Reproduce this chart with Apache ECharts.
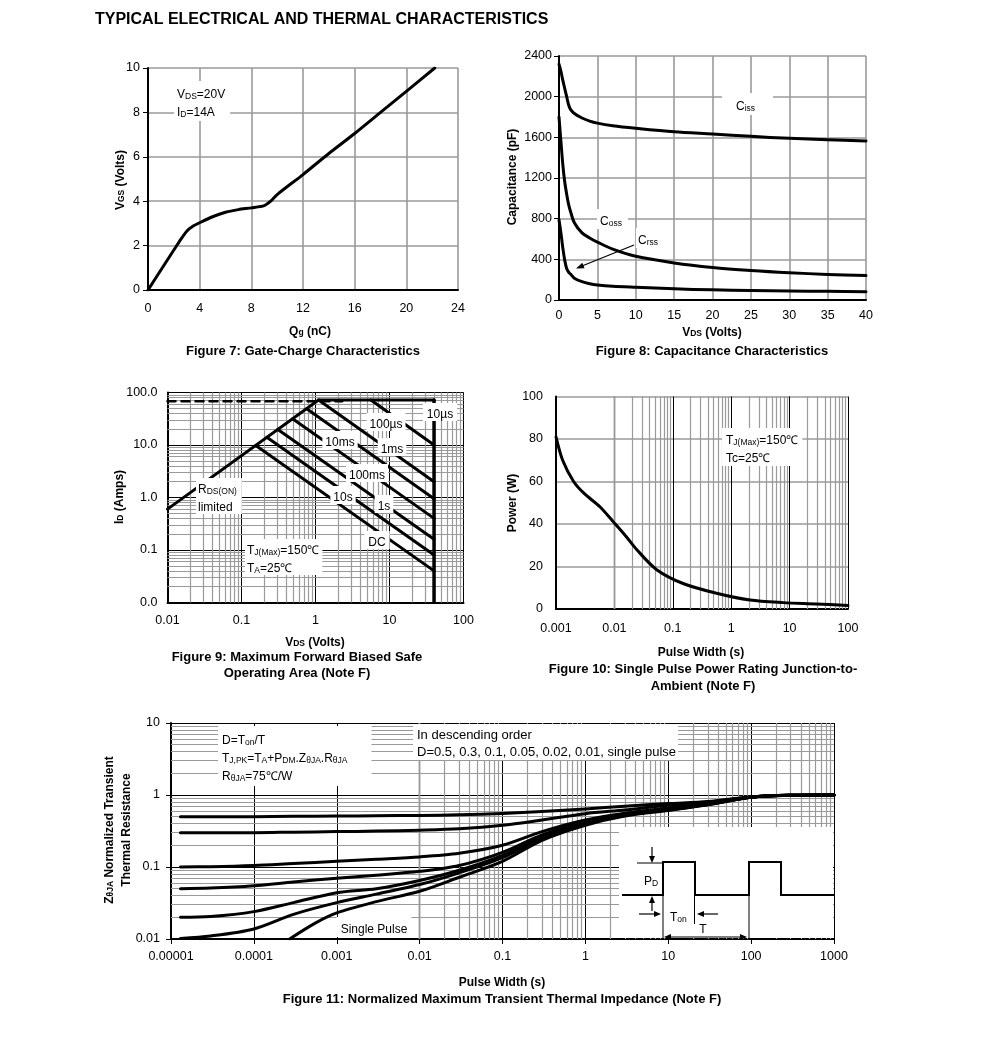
<!DOCTYPE html>
<html><head><meta charset="utf-8">
<script src="https://cdn.jsdelivr.net/npm/echarts@6/dist/echarts.min.js"></script>
<style>html,body{margin:0;padding:0;background:#fff}#c{width:991px;height:1038px}</style>
</head><body><div id="c"></div>
<script>
// ================= DATA =================
// Figure 7: Gate charge
const gateQg  = [0,0.5,1,1.5,2,2.5,3,3.5,4,5,6,7,8,9,9.5,10,12,14,16,18,20,22.2];
const gateVgs = [0,0.45,0.9,1.35,1.8,2.25,2.65,2.88,3.03,3.3,3.5,3.62,3.7,3.8,4.0,4.3,5.2,6.15,7.05,8.0,8.95,10];
// Figure 8: Capacitance
const capVds  = [0,0.25,0.5,0.75,1,1.25,1.5,2,3,4,5,7,10,15,20,25,30,35,40];
const capCiss = [2320,2250,2160,2080,2000,1920,1875,1835,1790,1760,1740,1715,1690,1655,1633,1610,1590,1577,1564];
const capCoss = [1800,1560,1330,1160,1040,940,870,760,660,610,570,500,430,365,320,290,268,252,240];
const capCrss = [790,660,510,390,310,275,255,215,180,160,148,135,125,110,100,94,89,85,82];
// Figure 9: Safe operating area (V, A)
const soaRdsLimit = [[0.01,0.6],[1.1,72]];
const soaCurrentLimit = [[1.1,72],[40,72]];
const soaVoltageLimit = [[40,72],[40,0.01]];
const soaDashed = [[0.01,68],[2.3,68]];
const soa10us  = [[5.6,72],[40,10]];
const soa100us = [[1.1,72],[40,2.0]];
const soa1ms   = [[0.76,49],[40,0.95]];
const soa10ms  = [[0.49,31.5],[40,0.4]];
const soa100ms = [[0.31,19.8],[40,0.16]];
const soa1s    = [[0.22,14],[40,0.08]];
const soa10s   = [[0.156,9.8],[40,0.04]];
// Figure 10: Single pulse power
const spWidth = [0.001,0.0013,0.002,0.003,0.0057,0.0096,0.016,0.024,0.053,0.15,0.56,2.1,7.8,28,100];
const spPower = [81,70,60,54.5,48,41,34,28,18.5,12,7.4,4.2,3.0,2.4,1.7];
// Figure 11: Transient thermal impedance
const zthT    = [1.3e-5,3e-5,1e-4,3e-4,1e-3,3e-3,1e-2,3e-2,0.1,0.3,1,3,10,30,100,300,1000];
const zthD05  = [0.5,0.5,0.5,0.505,0.51,0.515,0.52,0.53,0.555,0.59,0.64,0.70,0.76,0.81,0.94,0.99,1.0];
const zthD03  = [0.3,0.3,0.3,0.305,0.31,0.315,0.325,0.34,0.38,0.45,0.55,0.62,0.72,0.79,0.94,0.99,1.0];
const zthD01  = [0.1,0.101,0.105,0.112,0.12,0.128,0.138,0.155,0.2,0.31,0.45,0.56,0.66,0.76,0.93,0.99,1.0];
const zthD005 = [0.05,0.051,0.055,0.062,0.07,0.077,0.087,0.105,0.16,0.28,0.43,0.54,0.64,0.75,0.93,0.99,1.0];
const zthD002 = [0.02,0.0205,0.024,0.032,0.044,0.05,0.065,0.09,0.145,0.26,0.41,0.53,0.63,0.74,0.93,0.99,1.0];
const zthD001 = [0.0102,0.011,0.0138,0.022,0.032,0.042,0.057,0.083,0.135,0.25,0.40,0.52,0.62,0.74,0.93,0.99,1.0];
const zthSingleT = [2.7e-4,5.5e-4,1e-3,3e-3,1e-2,3e-2,0.1,0.3,1,3,10,30,100,300,1000];
const zthSingle  = [0.01,0.0166,0.023,0.033,0.046,0.072,0.12,0.235,0.38,0.51,0.61,0.73,0.93,0.99,1.0];
// Tick labels
const fig9XLabels  = ['0.01','0.1','1','10','100'];
const fig9YLabels  = ['0.0','0.1','1.0','10.0','100.0'];
const fig10XLabels = ['0.001','0.01','0.1','1','10','100'];
const fig11XLabels = ['0.00001','0.0001','0.001','0.01','0.1','1','10','100','1000'];
const fig11YLabels = ['0.01','0.1','1','10'];

// ================= STYLE / HELPERS =================
const FONT = '"Liberation Sans", Arial, Helvetica, sans-serif';
const GRAY = '#9a9a9a';
const TICK_FS = 12.5;
const RICH = {
  n:  {fontFamily:FONT, fontSize:12, lineHeight:18, verticalAlign:'bottom', color:'#000'},
  s:  {fontFamily:FONT, fontSize:8.5, lineHeight:7, verticalAlign:'bottom', color:'#000'},
  m:  {fontFamily:FONT, fontSize:13, lineHeight:17, verticalAlign:'bottom', color:'#000'},
  b:  {fontFamily:FONT, fontSize:12, fontWeight:'bold', lineHeight:17, verticalAlign:'bottom', color:'#000'},
  bs: {fontFamily:FONT, fontSize:8.5, fontWeight:'bold', lineHeight:7, verticalAlign:'bottom', color:'#000'},
  c:  {fontFamily:FONT, fontSize:13, fontWeight:'bold', lineHeight:17, verticalAlign:'bottom', color:'#000'},
  t:  {fontFamily:FONT, fontSize:16, fontWeight:'bold', lineHeight:20, verticalAlign:'bottom', color:'#000'}
};
const zip = (xs, ys) => xs.map((x, i) => [x, ys[i]]);
function logMinor(lo, hi){ const o=[]; for(let e=lo;e<hi;e++) for(let m=2;m<=9;m++) o.push(+(m*Math.pow(10,e)).toPrecision(6)); return o; }
const lbl = (arr, lo) => v => arr[Math.round(Math.log10(v)) - lo];

function linAxis(gi, min, max, interval, margin, ticks){
  return {gridIndex:gi, type:'value', min, max, interval,
    axisLine:{show:true, onZero:false, lineStyle:{color:'#000', width:2}},
    axisTick:{show:!!ticks, length:5, lineStyle:{color:'#000', width:1}},
    axisLabel:{color:'#000', fontSize:TICK_FS, fontFamily:FONT, margin, formatter:v => String(v)},
    splitLine:{show:true, lineStyle:{color:GRAY, width:1.6}}};
}
function logAxis(gi, min, max, fmt, margin, ticks){
  return {gridIndex:gi, type:'log', logBase:10, min, max, splitNumber:10,
    axisLine:{show:true, onZero:false, lineStyle:{color:'#000', width:2}},
    axisTick:{show:!!ticks, length:5, lineStyle:{color:'#000', width:1}},
    axisLabel:{color:'#000', fontSize:TICK_FS, fontFamily:FONT, margin, formatter:fmt},
    splitLine:{show:true, lineStyle:{color:'#000', width:1}},
    minorTick:{show:false}, minorSplitLine:{show:false}};
}
function minorGrid(gi, xs, ys, anchor){
  const data = [];
  xs.forEach(v => data.push({xAxis:v}));
  ys.forEach(v => data.push({yAxis:v}));
  return {type:'line', xAxisIndex:gi, yAxisIndex:gi, data:[anchor], z:1, silent:true,
    symbol:'none', lineStyle:{opacity:0},
    markLine:{z:1, silent:true, symbol:['none','none'], label:{show:false}, animation:false,
      lineStyle:{color:GRAY, width:1.2, type:'solid'}, emphasis:{disabled:true}, data}};
}
function curve(gi, data, o={}){
  return {type:'line', xAxisIndex:gi, yAxisIndex:gi, data, symbol:'none', silent:true, z:3,
    smooth:o.smooth||false, lineStyle:{color:'#000', width:o.w||3, type:o.type||'solid', cap:'round', join:'round'}};
}
function T(x, y, text, o={}){
  return {type:'text', x, y, z:100, rotation:o.rot||0,
    style:{text, rich:RICH, fill:'#000', font:'12px '+FONT,
      align:o.align||'left', textAlign:o.align||'left',
      verticalAlign:o.va||'middle', textVerticalAlign:o.va||'middle',
      backgroundColor:o.bg||null, padding:o.pad||0}};
}
function L(pts, w, z){ return {type:'polyline', z:z||101, shape:{points:pts}, style:{stroke:'#000', lineWidth:w||1, fill:null}}; }
function head(x, y, ang, len, wd){
  len = len||7; wd = wd||3;
  const bx = x - len*Math.cos(ang), by = y - len*Math.sin(ang);
  const px = -Math.sin(ang)*wd, py = Math.cos(ang)*wd;
  return {type:'polygon', z:101, shape:{points:[[x,y],[bx+px,by+py],[bx-px,by-py]]}, style:{fill:'#000'}};
}

// ================= LAYOUT =================
const grids = [
  {left:148, top:68, width:310, height:222},
  {left:559, top:56, width:307, height:244},
  {left:167.5, top:392.5, width:296, height:210},
  {left:556, top:396.5, width:292, height:212.5},
  {left:171, top:723, width:663, height:216}
];

const xAxes = [
  linAxis(0, 0, 24, 4, 12, false),
  linAxis(1, 0, 40, 5, 9, false),
  logAxis(2, 0.01, 100, lbl(fig9XLabels, -2), 12, false),
  logAxis(3, 0.001, 100, lbl(fig10XLabels, -3), 13, false),
  logAxis(4, 1e-5, 1000, lbl(fig11XLabels, -5), 11, true)
];
const yAxes = [
  linAxis(0, 0, 10, 2, 8, true),
  linAxis(1, 0, 2400, 400, 7, true),
  logAxis(2, 0.01, 100, lbl(fig9YLabels, -2), 10, false),
  linAxis(3, 0, 100, 20, 13, false),
  logAxis(4, 0.01, 10, lbl(fig11YLabels, -2), 11, true)
];

const series = [
  // minor log grids
  minorGrid(2, logMinor(-2,2), logMinor(-2,2), [0.01,0.01]),
  minorGrid(3, logMinor(-3,2), [], [0.001,0]),
  minorGrid(4, logMinor(-5,3), logMinor(-2,1), [1e-5,0.01]),
  // Fig 7
  curve(0, zip(gateQg, gateVgs), {smooth:0.25}),
  // Fig 8
  curve(1, zip(capVds, capCiss), {smooth:0.3}),
  curve(1, zip(capVds, capCoss), {smooth:0.3}),
  curve(1, zip(capVds, capCrss), {smooth:0.3}),
  // Fig 9
  curve(2, soaDashed, {type:[8,6], w:2.5}),
  curve(2, soaRdsLimit), curve(2, soaCurrentLimit), curve(2, soaVoltageLimit, {w:3.5}),
  curve(2, soa10us), curve(2, soa100us), curve(2, soa1ms), curve(2, soa10ms),
  curve(2, soa100ms), curve(2, soa1s), curve(2, soa10s),
  // Fig 10
  curve(3, zip(spWidth, spPower), {smooth:0.3}),
  // Fig 11
  curve(4, zip(zthT, zthD05), {smooth:0.3}),
  curve(4, zip(zthT, zthD03), {smooth:0.3}),
  curve(4, zip(zthT, zthD01), {smooth:0.3}),
  curve(4, zip(zthT, zthD005), {smooth:0.3}),
  curve(4, zip(zthT, zthD002), {smooth:0.3}),
  curve(4, zip(zthT, zthD001), {smooth:0.3}),
  curve(4, zip(zthSingleT, zthSingle), {smooth:0.3})
];

const WB = '#fff';
const graphics = [
  T(95, 18, '{t|TYPICAL ELECTRICAL AND THERMAL CHARACTERISTICS}'),
  // Fig 7
  T(118, 180, '{b|V}{bs|GS}{b| (Volts)}', {rot:Math.PI/2, align:'center'}),
  T(310, 329, '{b|Q}{bs|g}{b| (nC)}', {align:'center'}),
  T(303, 349, '{c|Figure 7: Gate-Charge Characteristics}', {align:'center'}),
  T(174, 101, '{n|V}{s|DS}{n|=20V}\n{n|I}{s|D}{n|=14A}', {bg:WB, pad:[2,5,2,3]}),
  // Fig 8
  T(510, 177, '{b|Capacitance (pF)}', {rot:Math.PI/2, align:'center'}),
  T(712, 330, '{b|V}{bs|DS}{b| (Volts)}', {align:'center'}),
  T(712, 349, '{c|Figure 8: Capacitance Characteristics}', {align:'center'}),
  T(722, 104, '{n|C}{s|iss}', {bg:WB, pad:[2,18,2,14]}),
  T(597, 219, '{n|C}{s|oss}', {bg:WB, pad:[1,6,1,3]}),
  T(636, 238, '{n|C}{s|rss}', {bg:WB, pad:[1,2,1,2]}),
  L([[634,245],[582,266]], 1.2), head(576,268.5, Math.atan2(268.5-245, 576-634), 8, 3),
  // Fig 9
  T(117, 497, '{b|I}{bs|D}{b| (Amps)}', {rot:Math.PI/2, align:'center'}),
  T(315, 640, '{b|V}{bs|DS}{b| (Volts)}', {align:'center'}),
  T(297, 655, '{c|Figure 9: Maximum Forward Biased Safe}', {align:'center'}),
  T(297, 671, '{c|Operating Area (Note F)}', {align:'center'}),
  T(440, 412, '{n|10µs}', {align:'center', bg:WB, pad:[0,4]}),
  T(386, 422, '{n|100µs}', {align:'center', bg:WB, pad:[0,3]}),
  T(340, 440, '{n|10ms}', {align:'center', bg:WB, pad:[0,3]}),
  T(392, 447, '{n|1ms}', {align:'center', bg:WB, pad:[0,3]}),
  T(367, 473, '{n|100ms}', {align:'center', bg:WB, pad:[0,3]}),
  T(343, 495, '{n|10s}', {align:'center', bg:WB, pad:[0,3]}),
  T(384, 504, '{n|1s}', {align:'center', bg:WB, pad:[0,3]}),
  T(377, 540, '{n|DC}', {align:'center', bg:WB, pad:[0,4]}),
  T(196, 496, '{n|R}{s|DS(ON)}\n{n|limited}', {bg:WB, pad:[0,5,0,2]}),
  T(245, 557, '{n|T}{s|J(Max)}{n|=150℃}\n{n|T}{s|A}{n|=25℃}', {bg:WB, pad:[0,3,0,2]}),
  // Fig 10
  T(510, 503, '{b|Power (W)}', {rot:Math.PI/2, align:'center'}),
  T(701, 650, '{b|Pulse Width (s)}', {align:'center'}),
  T(703, 667, '{c|Figure 10: Single Pulse Power Rating Junction-to-}', {align:'center'}),
  T(703, 684, '{c|Ambient (Note F)}', {align:'center'}),
  T(722, 447, '{n|T}{s|J(Max)}{n|=150℃}\n{n|Tc=25℃}', {bg:WB, pad:[1,4,1,4]}),
  // Fig 11
  T(115.5, 830, '{b|Z}{bs|θJA}{b| Normalized Transient}\n{b|Thermal Resistance}', {rot:Math.PI/2, align:'center'}),
  T(502, 980, '{b|Pulse Width (s)}', {align:'center'}),
  T(502, 997, '{c|Figure 11: Normalized Maximum Transient Thermal Impedance (Note F)}', {align:'center'}),
  T(218, 756, '{n|D=T}{s|on}{n|/T}\n{n|T}{s|J,PK}{n|=T}{s|A}{n|+P}{s|DM}{n|.Z}{s|θJA}{n|.R}{s|θJA}\n{n|R}{s|θJA}{n|=75℃/W}', {bg:WB, pad:[3,24,3,4]}),
  T(413, 742, '{m|In descending order}\n{m|D=0.5, 0.3, 0.1, 0.05, 0.02, 0.01, single pulse}', {bg:WB, pad:[1,2,1,4]}),
  T(374, 927, '{n|Single Pulse}', {align:'center', bg:WB, pad:[1,4,1,4]}),
  // pulse inset
  {type:'rect', z:50, shape:{x:619, y:827, width:214, height:111}, style:{fill:'#fff'}},
  L([[622,895],[663,895],[663,862],[695,862],[695,895],[749,895],[749,862],[781,862],[781,895],[834,895]], 2),
  L([[637,863],[663,863]], 1),
  L([[652,847],[652,856]], 1.2), head(652,863, Math.PI/2, 7, 3),
  L([[652,911],[652,902]], 1.2), head(652,896, -Math.PI/2, 7, 3),
  L([[663,895],[663,940]], 1), L([[694.5,895],[694.5,924]], 1), L([[749,895],[749,940]], 1),
  L([[639,914],[655,914]], 1.2), head(661,914, 0, 7, 3),
  L([[718,914],[703,914]], 1.2), head(697,914, Math.PI, 7, 3),
  L([[670,937],[741,937]], 1.2), head(664,937, Math.PI, 7, 3), head(747,937, 0, 7, 3),
  T(651, 879, '{n|P}{s|D}', {align:'center'}),
  T(670, 915, '{n|T}{s|on}'),
  T(703, 927, '{n|T}', {align:'center'})
];

const chart = echarts.init(document.getElementById('c'), null, {renderer:'canvas'});
chart.setOption({
  animation:false,
  backgroundColor:'#fff',
  textStyle:{fontFamily:FONT},
  grid:grids, xAxis:xAxes, yAxis:yAxes, series, graphic:graphics
});
</script>
</body></html>
